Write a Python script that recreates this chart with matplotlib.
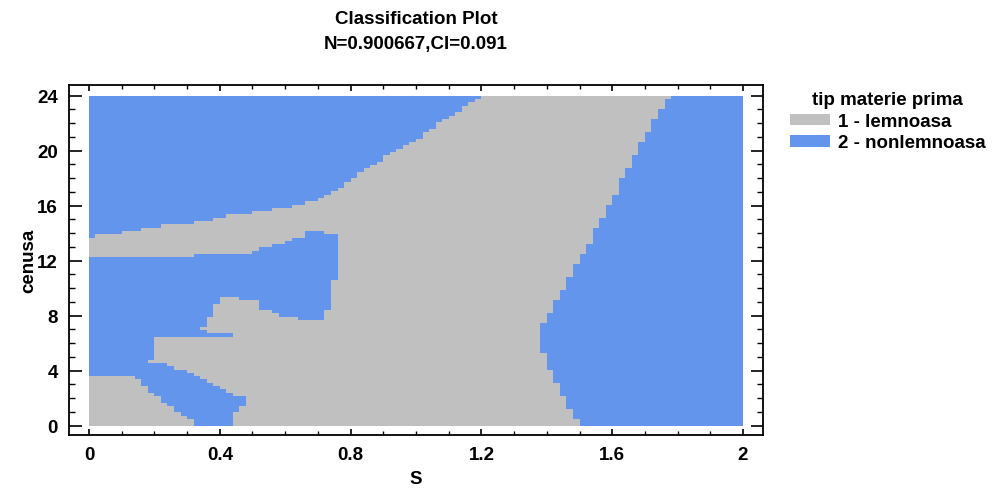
import numpy as np
import matplotlib
matplotlib.use("Agg")
import matplotlib.pyplot as plt
from matplotlib.path import Path
from matplotlib.colors import ListedColormap
from matplotlib.patches import Patch

# ---- data -------------------------------------------------------------
title_lines = ["Classification Plot", "N=0.900667,CI=0.091"]
x_label = "S"
y_label = "cenusa"
legend_title = "tip materie prima"
class_names = ["1 - lemnoasa", "2 - nonlemnoasa"]
class_colors = ["#C0C0C0", "#6495ED"]

x_ticks = [0, 0.4, 0.8, 1.2, 1.6, 2]
x_tick_labels = ["0", "0.4", "0.8", "1.2", "1.6", "2"]
y_ticks = [0, 4, 8, 12, 16, 20, 24]
y_tick_labels = ["0", "4", "8", "12", "16", "20", "24"]

x_span = (0.0, 2.0)
y_span = (0.0, 24.0)
n_cells = 100

# lower edge of the upper-left nonlemnoasa zone (S, cenusa)
upper_left_x = [0.00, 0.04, 0.12, 0.18, 0.24, 0.32, 0.37, 0.43, 0.51, 0.57,
                0.63, 0.69, 0.73, 0.77, 0.83, 0.89, 0.95, 1.01, 1.07, 1.13,
                1.17, 1.21]
upper_left_y = [13.6, 13.9, 14.1, 14.35, 14.6, 14.75, 15.0, 15.25, 15.5, 15.75,
                16.0, 16.3, 16.7, 17.4, 18.4, 19.3, 20.1, 21.0, 22.0, 22.9,
                23.6, 24.0]

# left edge of the right-hand nonlemnoasa zone, top to bottom
right_x = [1.78, 1.745, 1.725, 1.703, 1.685, 1.664, 1.645, 1.624, 1.606, 1.584,
           1.566, 1.544, 1.526, 1.505, 1.486, 1.465, 1.446, 1.425, 1.407, 1.385,
           1.385, 1.407, 1.425, 1.446, 1.465, 1.486, 1.505]
right_y = [24.0, 23.0, 22.0, 21.2, 20.3, 19.3, 18.6, 17.6, 16.7, 15.75,
           15.0, 14.1, 13.0, 12.4, 11.45, 10.5, 9.8, 8.8, 7.9, 7.15,
           5.55, 4.3, 3.35, 2.4, 1.46, 0.73, 0.0]

# outline of the central-left nonlemnoasa zone and its lower diagonal band
middle_x = [0.00, 0.31, 0.32, 0.49, 0.50, 0.55, 0.58, 0.62, 0.65, 0.67,
            0.73, 0.73, 0.77, 0.77, 0.752, 0.752, 0.731, 0.731, 0.713, 0.713,
            0.67, 0.63, 0.57, 0.55, 0.51, 0.51, 0.453, 0.453, 0.413, 0.394,
            0.394, 0.373, 0.373, 0.355, 0.355, 0.333, 0.333, 0.355, 0.394, 0.434,
            0.434, 0.196, 0.196, 0.177, 0.235, 0.275, 0.315, 0.355,
            0.394, 0.434, 0.474, 0.495, 0.474, 0.453, 0.434, 0.434, 0.333, 0.315,
            0.275, 0.235, 0.196, 0.156, 0.135, 0.00]
middle_y = [12.25, 12.3, 12.5, 12.55, 12.75, 13.0, 13.25, 13.5, 13.75, 14.05,
            14.05, 13.85, 13.85, 12.9, 12.9, 10.5, 10.5, 8.4, 8.4, 7.6,
            7.6, 7.9, 8.1, 8.4, 8.6, 9.1, 9.1, 9.33, 9.33, 9.2,
            8.9, 8.8, 7.9, 7.9, 7.3, 7.3, 7.0, 6.9, 6.7, 6.6,
            6.4, 6.4, 4.8, 4.6, 4.5, 4.1, 3.9, 3.35,
            2.85, 2.4, 2.0, 1.7, 1.6, 0.95, 0.3, 0.0, 0.0, 0.3,
            0.95, 1.68, 2.4, 3.14, 3.57, 3.57]

# ---- classification grid --------------------------------------------------
x_edges = np.linspace(*x_span, n_cells + 1)
y_edges = np.linspace(*y_span, n_cells + 1)
xc = 0.5 * (x_edges[:-1] + x_edges[1:])
yc = 0.5 * (y_edges[:-1] + y_edges[1:])
XX, YY = np.meshgrid(xc, yc)
pts = np.column_stack([XX.ravel(), YY.ravel()])

pad = 1.0
zone_upper_left = ([(-pad, upper_left_y[0])] + list(zip(upper_left_x, upper_left_y))
                   + [(upper_left_x[-1], y_span[1] + pad), (-pad, y_span[1] + pad)])
zone_right = ([(right_x[0], y_span[1] + pad)] + list(zip(right_x, right_y))
              + [(right_x[-1], -pad), (x_span[1] + pad, -pad),
                 (x_span[1] + pad, y_span[1] + pad)])
zone_middle = [(-pad if x == 0 else x, -pad if y == 0 else y)
               for x, y in zip(middle_x, middle_y)]

labels = np.zeros(len(pts), dtype=int)
for zone in (zone_upper_left, zone_right, zone_middle):
    labels[Path(zone).contains_points(pts)] = 1
Z = labels.reshape(XX.shape)

# ---- figure ---------------------------------------------------------------
plt.rcParams["font.family"] = ["Liberation Sans", "DejaVu Sans"]
plt.rcParams["font.weight"] = "bold"
fs = 13.5

fig = plt.figure(figsize=(10.01, 4.89), dpi=100)
ax = fig.add_axes([69 / 1001, 1 - 436 / 489, 694 / 1001, 350 / 489])

ax.pcolormesh(x_edges, y_edges, Z, cmap=ListedColormap(class_colors),
              vmin=0, vmax=1, shading="flat")

ax.set_xlim(-0.061, 2.061)
ax.set_ylim(-0.68, 24.78)

ax.set_xticks(x_ticks)
ax.set_xticklabels(x_tick_labels, fontsize=fs, fontweight="bold")
ax.set_yticks(y_ticks)
ax.set_yticklabels(y_tick_labels, fontsize=fs, fontweight="bold")
ax.set_xticks(np.arange(0, 2.0001, 0.1), minor=True)
ax.set_yticks(np.arange(0, 24.0001, 1), minor=True)

ax.tick_params(axis="x", which="major", direction="in", top=True, bottom=True,
               length=4.5, width=1.2, pad=8)
ax.tick_params(axis="x", which="minor", direction="in", top=True, bottom=True,
               length=2.7, width=1.0)
ax.tick_params(axis="y", which="major", direction="in", left=True, right=True,
               length=9, width=1.2, pad=8)
ax.tick_params(axis="y", which="minor", direction="in", left=True, right=True,
               length=4.5, width=1.0)
for sp in ax.spines.values():
    sp.set_linewidth(1.3)

ax.set_xlabel(x_label, fontsize=fs, fontweight="bold", labelpad=5)
ax.set_ylabel(y_label, fontsize=fs, fontweight="bold", labelpad=0)

fig.text(416 / 1001, 1 - 19 / 489, title_lines[0], ha="center", va="center",
         fontsize=fs, fontweight="bold")
fig.text(416 / 1001, 1 - 45 / 489, title_lines[1], ha="center", va="center",
         fontsize=fs, fontweight="bold")

handles = [Patch(facecolor=c, edgecolor="none") for c in class_colors]
leg = fig.legend(handles, class_names, title=legend_title,
                 loc="upper left", bbox_to_anchor=(777 / 1001, 1 - 79 / 489),
                 frameon=False, fontsize=fs,
                 title_fontproperties={"weight": "bold", "size": fs},
                 handlelength=2.1, handleheight=0.55, handletextpad=0.45,
                 labelspacing=0.25, borderpad=0.2)
for t in leg.get_texts():
    t.set_fontweight("bold")

fig.savefig("out.png", dpi=100)
